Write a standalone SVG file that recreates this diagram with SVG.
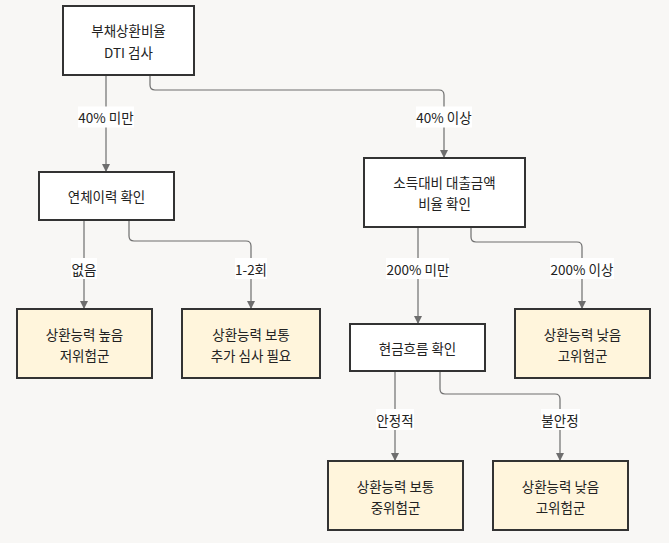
<svg xmlns="http://www.w3.org/2000/svg" width="669" height="543" viewBox="0 0 669 543">
<defs>
<style>
.bg{fill:#f8f7f5}
.node rect{stroke:#333;stroke-width:2}
.proc rect{fill:#ffffff}
.leaf rect{fill:#fff5dc}
text{font-family:"Noto Sans CJK KR","Noto Sans",sans-serif;font-size:13.5px;fill:#222;text-anchor:middle;dominant-baseline:central}
.edge{fill:none;stroke:#6e6e6e;stroke-width:1.2;marker-end:url(#arr)}
.lbl rect{fill:#ffffff}
</style>
<marker id="arr" viewBox="0 0 10 10" refX="10" refY="5" markerWidth="8" markerHeight="8" markerUnits="userSpaceOnUse" orient="auto">
<path d="M0,0 L10,5 L0,10 z" fill="#6e6e6e"/>
</marker>
</defs>
<rect class="bg" x="0" y="0" width="669" height="543"/>
<g id="edges">
<path class="edge" d="M106,75 V172"/>
<path class="edge" d="M150,75 V85 Q150,90 155,90 H439 Q444,90 444,95 V158"/>
<path class="edge" d="M84,220 V309"/>
<path class="edge" d="M129,220 V236 Q129,241 134,241 H246 Q251,241 251,246 V309"/>
<path class="edge" d="M418,227 V324"/>
<path class="edge" d="M471,227 V237 Q471,242 476,242 H577 Q582,242 582,247 V309"/>
<path class="edge" d="M395,371 V461"/>
<path class="edge" d="M440,371 V389 Q440,394 445,394 H555 Q560,394 560,399 V461"/>
<g class="lbl"><rect x="78" y="106.5" width="56" height="21"/><text x="106" y="117">40% 미만</text></g>
<g class="lbl"><rect x="416" y="106.5" width="56" height="21"/><text x="444" y="117">40% 이상</text></g>
<g class="lbl"><rect x="71" y="258" width="26" height="21"/><text x="84" y="268.5">없음</text></g>
<g class="lbl"><rect x="235" y="258" width="32" height="21"/><text x="251" y="268.5">1-2회</text></g>
<g class="lbl"><rect x="386" y="258" width="63" height="21"/><text x="418" y="268.5">200% 미만</text></g>
<g class="lbl"><rect x="550" y="258" width="64" height="21"/><text x="582" y="268.5">200% 이상</text></g>
<g class="lbl"><rect x="376" y="409" width="38" height="21"/><text x="395" y="419.5">안정적</text></g>
<g class="lbl"><rect x="541" y="409" width="39" height="21"/><text x="560" y="419.5">불안정</text></g>
</g>
<g id="n1" class="node proc"><rect x="63" y="6" width="131" height="69"/><text x="128.5" y="30">부채상환비율</text><text x="128.5" y="51.5">DTI 검사</text></g>
<g id="n2" class="node proc"><rect x="39" y="172" width="135" height="48"/><text x="106.5" y="196">연체이력 확인</text></g>
<g id="n3" class="node proc"><rect x="364" y="158" width="161" height="69"/><text x="444.5" y="182">소득대비 대출금액</text><text x="444.5" y="203">비율 확인</text></g>
<g id="n4" class="node leaf"><rect x="17" y="309" width="135" height="69"/><text x="84.5" y="333.5">상환능력 높음</text><text x="84.5" y="355">저위험군</text></g>
<g id="n5" class="node leaf"><rect x="182" y="309" width="138" height="69"/><text x="251" y="333.5">상환능력 보통</text><text x="251" y="355">추가 심사 필요</text></g>
<g id="n6" class="node proc"><rect x="350" y="324" width="135" height="47"/><text x="417.5" y="348">현금흐름 확인</text></g>
<g id="n7" class="node leaf"><rect x="515" y="309" width="135" height="69"/><text x="582.5" y="333.5">상환능력 낮음</text><text x="582.5" y="355">고위험군</text></g>
<g id="n8" class="node leaf"><rect x="328" y="461" width="135" height="69"/><text x="395.5" y="485.5">상환능력 보통</text><text x="395.5" y="507">중위험군</text></g>
<g id="n9" class="node leaf"><rect x="493" y="461" width="135" height="69"/><text x="560.5" y="485.5">상환능력 낮음</text><text x="560.5" y="507">고위험군</text></g>
</svg>
